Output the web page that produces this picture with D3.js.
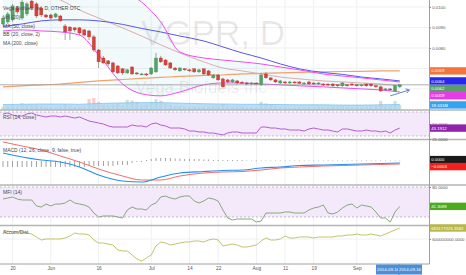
<!DOCTYPE html>
<html><head><meta charset="utf-8">
<script src="https://cdn.jsdelivr.net/npm/d3@7"></script>
<style>body{margin:0;background:#fff}svg{display:block}</style>
</head><body>
<svg width="466" height="275"></svg>
<script>
// ---------------- DATA ----------------
const dates = ["2014-05-16","2014-05-19","2014-05-20","2014-05-21","2014-05-22","2014-05-23","2014-05-27","2014-05-28","2014-05-29","2014-05-30",
"2014-06-02","2014-06-03","2014-06-04","2014-06-05","2014-06-06","2014-06-09","2014-06-10","2014-06-11","2014-06-12","2014-06-13",
"2014-06-16","2014-06-17","2014-06-18","2014-06-19","2014-06-20","2014-06-23","2014-06-24","2014-06-25","2014-06-26","2014-06-27","2014-06-30",
"2014-07-01","2014-07-02","2014-07-03","2014-07-07","2014-07-08","2014-07-09","2014-07-10","2014-07-11","2014-07-14","2014-07-15","2014-07-16",
"2014-07-17","2014-07-18","2014-07-21","2014-07-22","2014-07-23","2014-07-24","2014-07-25","2014-07-28","2014-07-29","2014-07-30","2014-07-31",
"2014-08-01","2014-08-04","2014-08-05","2014-08-06","2014-08-07","2014-08-08","2014-08-11","2014-08-12","2014-08-13","2014-08-14","2014-08-15",
"2014-08-18","2014-08-19","2014-08-20","2014-08-21","2014-08-22","2014-08-25","2014-08-26","2014-08-27","2014-08-28","2014-08-29",
"2014-09-02","2014-09-03","2014-09-04","2014-09-05","2014-09-08","2014-09-09","2014-09-10","2014-09-12","2014-09-15","2014-09-16"];

const tickDates  = ["2014-05-20","2014-06-02","2014-06-16","2014-07-01","2014-07-14","2014-07-22","2014-08-01","2014-08-11","2014-08-19","2014-09-02"];
const tickLabels = ["20","Jun","16","Jul","14","22","Aug","11","19","Sep"];

const open  = [.00917,.00927,.00937,.00995,.00946,.00966,.01029,.01015,.00995,.00961,.00961,.00951,.00956,.00907,.00902,.00898,.00898,.00888,.00883,.00854,
.00790,.00751,.00737,.00727,.00712,.00698,.00678,.00707,.00678,.00670,.00673,.00673,.00683,.00751,.00741,.00727,.00702,.00688,.00698,.00693,
.00698,.00683,.00698,.00688,.00654,.00668,.00649,.00644,.00634,.00639,.00632,.00629,.00624,.00629,.00620,.00673,.00654,.00644,.00629,.00634,
.00629,.00634,.00634,.00624,.00634,.00629,.00624,.00624,.00624,.00624,.00620,.00615,.00620,.00624,.00620,.00615,.00624,.00624,.00615,.00610,
.00595,.00600,.00590,.00610];
const high  = [.00956,.00976,.01015,.01005,.01034,.01024,.01034,.01024,.01005,.00966,.00966,.00971,.00961,.00917,.00907,.00902,.00902,.00893,.00888,.00863,
.00795,.00761,.00741,.00732,.00717,.00702,.00698,.00712,.00683,.00678,.00678,.00707,.00776,.00761,.00746,.00732,.00707,.00707,.00702,.00698,
.00702,.00698,.00702,.00693,.00673,.00673,.00654,.00649,.00649,.00644,.00639,.00634,.00634,.00632,.00678,.00683,.00658,.00649,.00644,.00639,
.00639,.00637,.00639,.00632,.00639,.00632,.00634,.00629,.00627,.00629,.00624,.00634,.00624,.00629,.00624,.00624,.00629,.00627,.00620,.00615,
.00605,.00605,.00620,.00624];
const low   = [.00907,.00917,.00927,.00966,.00937,.00956,.00985,.00946,.00951,.00946,.00937,.00946,.00927,.00839,.00839,.00878,.00863,.00858,.00839,.00780,
.00702,.00722,.00712,.00678,.00673,.00668,.00673,.00668,.00668,.00668,.00663,.00668,.00678,.00727,.00712,.00698,.00688,.00683,.00688,.00683,
.00678,.00678,.00668,.00663,.00649,.00639,.00605,.00629,.00629,.00624,.00624,.00620,.00620,.00622,.00615,.00649,.00639,.00629,.00624,.00624,
.00624,.00627,.00624,.00620,.00620,.00620,.00620,.00615,.00615,.00610,.00610,.00610,.00612,.00615,.00612,.00612,.00610,.00610,.00605,.00585,
.00590,.00590,.00585,.00605];
const close = [.00946,.00966,.01005,.00976,.01024,.01015,.00995,.00956,.00961,.00951,.00946,.00966,.00932,.00878,.00883,.00888,.00873,.00863,.00854,.00790,
.00732,.00727,.00722,.00683,.00678,.00678,.00693,.00673,.00673,.00673,.00668,.00702,.00751,.00732,.00717,.00702,.00693,.00702,.00693,.00688,
.00683,.00693,.00673,.00668,.00668,.00644,.00610,.00634,.00644,.00629,.00627,.00624,.00629,.00624,.00668,.00654,.00644,.00634,.00639,.00629,
.00634,.00629,.00627,.00629,.00624,.00624,.00629,.00620,.00620,.00615,.00615,.00629,.00615,.00620,.00615,.00620,.00615,.00615,.00610,.00590,
.00600,.00595,.00615,.00620];
const volume = [12e6,14e6,20e6,15e6,25e6,18e6,16e6,18e6,14e6,12e6,10e6,10e6,12e6,22e6,16e6,10e6,12e6,14e6,40e6,44e6,
30e6,20e6,18e6,20e6,22e6,18e6,37e6,35e6,30e6,18e6,20e6,30e6,40e6,35e6,22e6,18e6,15e6,14e6,12e6,12e6,
14e6,12e6,14e6,12e6,15e6,16e6,22e6,15e6,12e6,14e6,12e6,10e6,12e6,10e6,30e6,24e6,20e6,14e6,12e6,12e6,
10e6,10e6,12e6,10e6,12e6,10e6,12e6,10e6,12e6,14e6,12e6,14e6,12e6,10e6,12e6,10e6,12e6,14e6,16e6,33e6,
14e6,16e6,33e6,18.631e6];

// smooth overlay series, read at these bar indices
const smoothIdx = [0,4,8,12,16,20,25,29,33,37,42,46,50,54,58,62,67,71,75,79,83];
const ma50    = [.00905,.00917,.00932,.00937,.00937,.00932,.00915,.00895,.00878,.00858,.00834,.00805,.00776,.00751,.00722,.00698,.00680,.00671,.00658,.00649,.00639];
const ma200   = [.00610,.00615,.00620,.00624,.00632,.00639,.00646,.00651,.00656,.00661,.00666,.00668,.00673,.00676,.00678,.00681,.00683,.00685,.00686,.00688,.00688];
const bbUpper = [.01180,.01205,.01220,.01210,.01180,.01156,.01083,.01024,.00927,.00780,.00751,.00741,.00732,.00722,.00707,.00693,.00673,.00663,.00654,.00644,.00634];
const bbBasis = [.01107,.01093,.01063,.01034,.00985,.00946,.00898,.00858,.00815,.00776,.00732,.00702,.00688,.00673,.00658,.00649,.00639,.00634,.00629,.00624,.00615];
const bbLower = [.00883,.00888,.00883,.00878,.00863,.00766,.00624,.00576,.00566,.00585,.00620,.00629,.00629,.00624,.00620,.00615,.00610,.00605,.00600,.00595,.00585];
const volMA   = [20e6,21e6,22e6,22e6,21e6,24e6,26e6,27e6,27e6,25e6,23e6,22e6,21e6,21e6,20e6,19e6,19e6,18e6,18e6,19e6,20e6];
const macdLine   = [0.0008,0.0004,0.0001,-0.0001,-0.0006,-0.0014,-0.0020,-0.0021,-0.0016,-0.0012,-0.00105,-0.00095,-0.0009,-0.0007,-0.0006,-0.00045,-0.0004,-0.00035,-0.0003,-0.00025,-0.0002];
const signalLine = [0.0019,0.0015,0.0011,0.0005,-0.0001,-0.0008,-0.0015,-0.0019,-0.0019,-0.0015,-0.0012,-0.0011,-0.00105,-0.0009,-0.0007,-0.0006,-0.0005,-0.00045,-0.0004,-0.00035,-0.0003];

const macdHist = [-0.0006,-0.0006,-0.0006,-0.0006,-0.0006,-0.0006,-0.0006,-0.0006,-0.0006,-0.0006,-0.0006,-0.0006,-0.0006,-0.0006,-0.0006,-0.0006,-0.0006,-0.0006,
-0.0005,-0.0005,-0.0005,-0.0005,-0.0005,-0.0005,-0.0004,-0.0004,-0.0004,-0.0002,-0.0001,-0.0001,
0.0001,0.0002,0.0003,0.0003,0.0003,0.0003,0.00025,0.00025,0.0002,0.0002,0.0002,0.0002,0.00015,0.00015,
0.0001,0.0001,0.0001,0.0001,0.0001,0.0001,0.0001,
0.00005,0.00005,0.00005,0.00005,0.00005,0.00005,0.00005,0.00005,0.00005,0.00005,0.00005,0.00005,0.00005,0.00005,0.00005,0.00005,
0.00005,0.00005,0.00005,0.00005,0.00005,0.00005,0.00005,0.00005,0.00005,0.00005,0.00005,0.00005,0.00005,0.00005,0.00005,0.00005,0.00004];

const rsi = [66.7,68.3,65.0,63.3,63.3,66.7,68.3,65.0,63.3,61.7,
63.3,63.3,61.7,63.3,61.7,60.0,61.7,58.3,55.0,53.3,
51.7,50.0,46.7,45.0,45.0,45.0,45.0,48.3,46.7,46.7,
45.0,50.0,51.7,48.3,46.7,43.3,43.3,43.3,41.7,38.3,
38.3,36.7,36.7,35.0,35.0,33.3,31.7,35.0,36.7,36.7,
35.0,35.0,35.0,35.0,45.0,45.0,43.3,43.3,41.7,41.7,
40.0,40.0,40.0,38.3,41.7,43.3,41.7,40.0,40.0,38.3,
36.7,41.7,41.7,40.0,38.3,38.3,40.0,38.3,38.3,36.7,
38.3,35.0,40.0,43.1912];

const mfi = [56,58,60,56,54,54,54,42,40,46,
42,46,46,48,54,48,46,44,40,28,
20,22,22,22,20,18,34,40,36,36,
34,44,48,60,62,58,56,60,62,62,
52,48,52,58,56,52,34,18,14,16,
16,16,16,10,12,28,28,28,28,30,
30,28,28,28,34,38,40,44,28,26,
30,38,44,46,38,44,42,40,30,18,
18,10,30,41.3089];

const accDist = [660.50e6,660.50e6,652.94e6,652.94e6,652.94e6,645.38e6,637.82e6,615.14e6,592.46e6,600.02e6,
600.02e6,600.02e6,600.02e6,607.58e6,622.70e6,645.38e6,637.82e6,637.82e6,630.26e6,592.46e6,
569.78e6,569.78e6,562.22e6,554.66e6,516.86e6,509.30e6,509.30e6,479.06e6,448.82e6,433.70e6,
456.38e6,479.06e6,547.10e6,577.34e6,569.78e6,554.66e6,562.22e6,569.78e6,577.34e6,577.34e6,
584.90e6,584.90e6,577.34e6,592.46e6,600.02e6,592.46e6,547.10e6,554.66e6,562.22e6,554.66e6,
539.54e6,539.54e6,547.10e6,554.66e6,584.90e6,607.58e6,592.46e6,592.46e6,600.02e6,622.70e6,
607.58e6,607.58e6,615.14e6,615.14e6,615.14e6,607.58e6,615.14e6,615.14e6,615.14e6,615.14e6,
622.70e6,622.70e6,630.26e6,630.26e6,637.82e6,630.26e6,630.26e6,637.82e6,630.26e6,622.70e6,
637.82e6,652.94e6,668.06e6,683177323.3582];

const priceTicks = [0.0080,0.0090,0.0100];       // labelled
const priceGrid  = [0.0060,0.0070,0.0080,0.0090,0.0100];
const rsiTicks = [25,50];
const mfiTicks = [80];
const adTicks = [600000000];
// drawn trend arrow (bar index, price)
const arrowFrom = [81, 0.00566];
const arrowTo   = [85, 0.00595];

// ---------------- LAYOUT ----------------
const FONT = "'Liberation Sans', Arial, sans-serif";
const svg = d3.select("svg").attr("font-family", FONT);
const plotR = 429.5, bottomY = 264;
const P = {main:[0,110], rsi:[111,139], macd:[140,185], mfi:[186,225], ad:[226,264]};

const x = d3.scalePoint().domain(dates).range([3, 399.8]);
const step = x.step();
const xi = i => x.range()[0] + i * step;

const yP = d3.scaleLinear().domain([0.00502, 0.01034]).range([109, 0]);
const yV = d3.scaleLinear().domain([0, 110e6]).range([110, 80]);
const yR = d3.scaleLinear().domain([25, 50]).range([139, 124]);
const yM = d3.scaleLinear().domain([-0.0023, 0.0021]).range([184, 140]);
const yF = d3.scaleLinear().domain([20, 80]).range([217, 187]);
const yA = d3.scaleLinear().domain([600000000, 683177323.3582]).range([239, 228]);

const defs = svg.append("defs");
Object.entries(P).forEach(([k,[t,b]]) => {
  defs.append("clipPath").attr("id","clip-"+k).append("rect").attr("x",0).attr("y",t).attr("width",plotR).attr("height",b-t);
});
const layer = k => svg.append("g").attr("clip-path","url(#clip-"+k+")");

// grid
const grid = svg.append("g").attr("stroke","#eef0f3").attr("stroke-width",1);
tickDates.forEach(d => grid.append("line").attr("x1",x(d)).attr("x2",x(d)).attr("y1",0).attr("y2",bottomY));
priceGrid.forEach(v => grid.append("line").attr("x1",0).attr("x2",plotR).attr("y1",yP(v)).attr("y2",yP(v)));
grid.append("line").attr("x1",0).attr("x2",plotR).attr("y1",yA(600000000)).attr("y2",yA(600000000));

// watermark
const wm = svg.append("g").attr("fill","#000").attr("fill-opacity",0.09).attr("text-anchor","middle");
wm.append("text").attr("x",213).attr("y",45).attr("font-size",35).text("VGPR, D");
wm.append("text").attr("x",201).attr("y",93).attr("font-size",17).text("Vega Biofuels Inc");

// ---------- main panel ----------
const gm = layer("main");
const sPts = smoothIdx.map((b,k)=>({b,k}));
gm.append("path").datum(sPts)
  .attr("d", d3.area().x(p=>xi(p.b)).y0(p=>yP(bbLower[p.k])).y1(p=>yP(bbUpper[p.k])).curve(d3.curveMonotoneX))
  .attr("fill","#8fd0d8").attr("fill-opacity",0.13);

// volume bars
gm.selectAll("rect.vol").data(volume).join("rect")
  .attr("x",(v,i)=>xi(i)-1.6).attr("width",3.2)
  .attr("y",v=>yV(v)).attr("height",v=>110-yV(v))
  .attr("fill",(v,i)=>close[i]>=open[i]?"#bfe3c3":"#f2c4c4").attr("fill-opacity",0.85);
// volume MA area
gm.append("path").datum(sPts)
  .attr("d", d3.area().x(p=>xi(p.b)).y0(110).y1(p=>yV(volMA[p.k])).curve(d3.curveMonotoneX))
  .attr("fill","#a9d6f3").attr("fill-opacity",0.8);
gm.append("path").datum(sPts)
  .attr("d", d3.line().x(p=>xi(p.b)).y(p=>yV(volMA[p.k])).curve(d3.curveMonotoneX))
  .attr("fill","none").attr("stroke","#86c2ea").attr("stroke-width",0.8);

const lineOf = arr => d3.line().x(p=>xi(p.b)).y(p=>yP(arr[p.k])).curve(d3.curveMonotoneX);
gm.append("path").datum(sPts).attr("d",lineOf(ma200)).attr("fill","none").attr("stroke","#f5a06a").attr("stroke-width",1.2);
gm.append("path").datum(sPts).attr("d",lineOf(bbBasis)).attr("fill","none").attr("stroke","#d9a3a8").attr("stroke-width",0.9);
gm.append("path").datum(sPts).attr("d",lineOf(ma50)).attr("fill","none").attr("stroke","#5656ee").attr("stroke-width",1);
gm.append("path").datum(sPts).attr("d",lineOf(bbUpper)).attr("fill","none").attr("stroke","#f04cf0").attr("stroke-width",1);
gm.append("path").datum(sPts).attr("d",lineOf(bbLower)).attr("fill","none").attr("stroke","#f04cf0").attr("stroke-width",1);

// last price line
gm.append("line").attr("x1",0).attr("x2",plotR).attr("y1",yP(close[close.length-1])).attr("y2",yP(close[close.length-1]))
  .attr("stroke","#9a9a9a").attr("stroke-width",0.8);

// candles
const cg = gm.append("g");
dates.forEach((d,i)=>{
  const up = close[i]>=open[i];
  const col = up ? "#55a265" : "#d9413b";
  cg.append("line").attr("x1",x(d)).attr("x2",x(d)).attr("y1",yP(high[i])).attr("y2",yP(low[i]))
    .attr("stroke","#8a8a8a").attr("stroke-width",0.8);
  const t = yP(Math.max(open[i],close[i])), b = yP(Math.min(open[i],close[i]));
  cg.append("rect").attr("x",x(d)-1.6).attr("width",3.2).attr("y",t).attr("height",Math.max(1,b-t))
    .attr("fill",col).attr("stroke",d3.color(col).darker(0.5)).attr("stroke-width",0.3);
});

// arrow annotation
const ax1 = xi(arrowFrom[0]), ay1 = yP(arrowFrom[1]), ax2 = xi(arrowTo[0]), ay2 = yP(arrowTo[1]);
const ang = Math.atan2(ay2-ay1, ax2-ax1);
const arr = svg.append("g").attr("stroke","#5f86d6").attr("stroke-width",1).attr("fill","none");
arr.append("line").attr("x1",ax1).attr("y1",ay1).attr("x2",ax2).attr("y2",ay2);
arr.append("path").attr("d",`M${ax2-4*Math.cos(ang-0.6)},${ay2-4*Math.sin(ang-0.6)}L${ax2},${ay2}L${ax2-4*Math.cos(ang+0.6)},${ay2-4*Math.sin(ang+0.6)}`);

// ---------- RSI ----------
const gr = layer("rsi");
gr.append("rect").attr("x",0).attr("width",plotR).attr("y",yR(70)).attr("height",yR(30)-yR(70)).attr("fill","#f4e8fb");
[70,30].forEach(v=>gr.append("line").attr("x1",0).attr("x2",plotR).attr("y1",yR(v)).attr("y2",yR(v))
  .attr("stroke","#9a9a9a").attr("stroke-width",0.6).attr("stroke-dasharray","2,2"));
gr.append("path").datum(rsi).attr("d",d3.line().x((v,i)=>xi(i)).y(v=>yR(v)))
  .attr("fill","none").attr("stroke","#b45ed0").attr("stroke-width",1);

// ---------- MACD ----------
const gc = layer("macd");
gc.selectAll("rect.h").data(macdHist).join("rect")
  .attr("x",(v,i)=>xi(i)-0.4).attr("width",0.8)
  .attr("y",v=>Math.min(yM(v),yM(0))).attr("height",v=>Math.max(0.6,Math.abs(yM(v)-yM(0))))
  .attr("fill","#8c8c8c");
const mLine = arrv => d3.line().x(p=>xi(p.b)).y(p=>yM(arrv[p.k])).curve(d3.curveMonotoneX);
gc.append("path").datum(sPts).attr("d",mLine(signalLine)).attr("fill","none").attr("stroke","#f26d6d").attr("stroke-width",1);
gc.append("path").datum(sPts).attr("d",mLine(macdLine)).attr("fill","none").attr("stroke","#2590ee").attr("stroke-width",1.1);

// ---------- MFI ----------
const gf = layer("mfi");
gf.append("rect").attr("x",0).attr("width",plotR).attr("y",yF(80)).attr("height",yF(20)-yF(80)).attr("fill","#f4e8fb");
[80,20].forEach(v=>gf.append("line").attr("x1",0).attr("x2",plotR).attr("y1",yF(v)).attr("y2",yF(v))
  .attr("stroke","#9a9a9a").attr("stroke-width",0.6).attr("stroke-dasharray","2,2"));
gf.append("path").datum(mfi).attr("d",d3.line().x((v,i)=>xi(i)).y(v=>yF(v)))
  .attr("fill","none").attr("stroke","#86a87a").attr("stroke-width",1);

// ---------- Accum/Dist ----------
const ga = layer("ad");
ga.append("path").datum(accDist).attr("d",d3.line().x((v,i)=>xi(i)).y(v=>yA(v)))
  .attr("fill","none").attr("stroke","#c4c46a").attr("stroke-width",1);

// ---------- separators & axes ----------
const sep = svg.append("g").attr("stroke","#b4b4b4").attr("stroke-width",1.6);
[110, 139.5, 185, 225.5].forEach(y=>sep.append("line").attr("x1",0).attr("x2",466).attr("y1",y).attr("y2",y));
svg.append("line").attr("x1",0).attr("x2",plotR).attr("y1",bottomY).attr("y2",bottomY).attr("stroke","#a0a0a0").attr("stroke-width",1);
svg.append("line").attr("x1",plotR).attr("x2",plotR).attr("y1",0).attr("y2",bottomY).attr("stroke","#a0a0a0").attr("stroke-width",1);

function rightAxis(scale, vals){
  const g = svg.append("g").attr("transform",`translate(${plotR},0)`)
    .call(d3.axisRight(scale).tickValues(vals).tickFormat(d3.format(".4f")).tickSize(1.5).tickPadding(1.2));
  g.select(".domain").remove();
  g.selectAll("line").attr("stroke","#888");
  g.selectAll("text").attr("font-size",4.3).attr("fill","#555").attr("font-family",FONT);
}
rightAxis(yP, priceTicks);
rightAxis(yR, rsiTicks);
rightAxis(yF, mfiTicks);
rightAxis(yA, adTicks);

const xa = svg.append("g").attr("transform",`translate(0,${bottomY})`)
  .call(d3.axisBottom(x).tickValues(tickDates).tickFormat((d,i)=>tickLabels[i]).tickSize(0).tickPadding(3));
xa.select(".domain").remove();
xa.selectAll("text").attr("font-size",4.8).attr("fill","#555").attr("font-family",FONT);

// ---------- tags ----------
function tag(y, text, bg, fg){
  const g = svg.append("g");
  g.append("rect").attr("x",430).attr("y",y-3.7).attr("width",36).attr("height",7.4).attr("fill",bg);
  g.append("text").attr("x",431.2).attr("y",y+1.6).attr("fill",fg||"#fff").attr("font-size",4.3).text(text);
}
const f4 = d3.format(".4f");
const last = a => a[a.length-1];
const mainTags = [
  {y:yP(last(ma200)), t:f4(last(ma200)), c:"#f4743b"},
  {y:yP(last(ma50)),  t:f4(last(ma50)),  c:"#2727f0"},
  {y:yP(last(close)), t:f4(last(close)), c:"#5a9e67"},
  {y:yP(last(bbLower)), t:f4(last(bbLower)), c:"#e83ae8"},
  {y:yV(last(volume)), t:(last(volume)/1e6).toFixed(3)+"M", c:"#36a3f0"}
].sort((a,b)=>a.y-b.y);
for (let k=1;k<mainTags.length;k++) if (mainTags[k].y < mainTags[k-1].y+7.4) mainTags[k].y = mainTags[k-1].y+7.4;
mainTags.slice().reverse().forEach(d=>tag(d.y,d.t,d.c));

tag(yR(last(rsi)), f4(last(rsi)), "#8e24aa");
tag(yM(last(macdHist))-1, f4(last(macdHist)), "#1a1a1a");
tag(yM(last(macdHist))+6, f4(last(signalLine)), "#f21f1f");
tag(yF(last(mfi)), f4(last(mfi)), "#4caa1e");
tag(yA(last(accDist)), f4(last(accDist)), "#b8b84a");

// date label
const lastDate = last(dates);
[[388, lastDate],[410, lastDate]].forEach(([cx,t])=>{
  svg.append("rect").attr("x",cx-12).attr("y",264.5).attr("width",24).attr("height",10).attr("fill","#4a8fd8");
  svg.append("text").attr("x",cx).attr("y",271.2).attr("text-anchor","middle").attr("fill","#fff").attr("font-size",4.3).text(t);
});

// ---------- legends ----------
const leg = svg.append("g").attr("font-size",5).attr("fill","#4a4a4a");
[["Vega Biofuels Inc, D, OTHER OTC",9.5],["Vol (20)",19],["MA (50, close)",27.5],["BB (20, close, 2)",36],["MA (200, close)",44.5],
 ["RSI (14, close)",118.5],["MACD (12, 26, close, 9, false, true)",151.5],["MFI (14)",194],["Accum/Dist",234]]
 .forEach(([t,y])=>leg.append("text").attr("x",3).attr("y",y).text(t));
</script>
</body></html>
